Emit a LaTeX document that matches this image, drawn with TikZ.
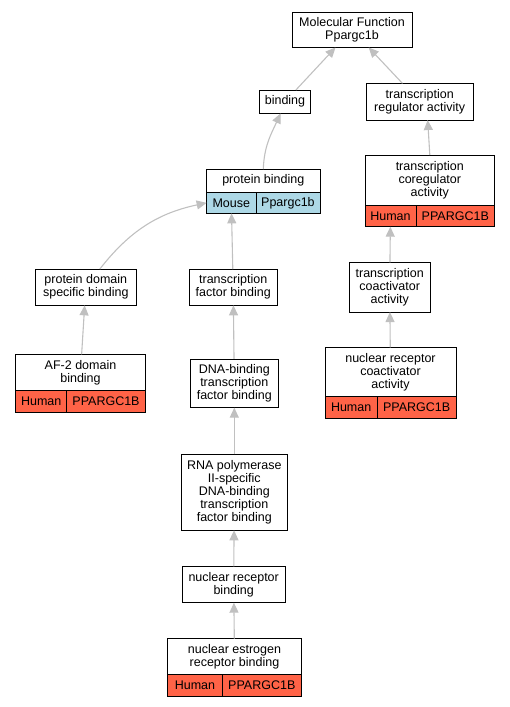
\documentclass[tikz,border=0pt]{standalone}
\usepackage{fontspec}
\setmainfont{Liberation Sans}
\usetikzlibrary{arrows.meta}
\definecolor{humanred}{RGB}{255, 99, 71}
\definecolor{mouseblue}{RGB}{173, 216, 230}
\definecolor{isagray}{RGB}{192, 192, 192}

\begin{document}
\begin{tikzpicture}[x=1pt, y=-1pt,
  every node/.style={font=\fontsize{12.5}{13}\selectfont, inner sep=0pt, outer sep=0pt, align=center},
  term/.style={draw, line width=0.9pt, fill=white},
  cell/.style={draw, line width=0.9pt, minimum height=21.7pt, anchor=north west},
  human/.style={fill=humanred},
  mouse/.style={fill=mouseblue},
  isa/.style={draw=isagray, line width=1.1pt, -{Triangle[length=10pt, width=9pt, fill=isagray]}}]

  \useasboundingbox (0,0) rectangle (509,707);

  %GO terms
  \draw[]
   (352,29.75) node[term, minimum width=120pt, minimum height=35.5pt](mf) {Molecular Function\\Ppargc1b}
   (285,101.7) node[term, minimum width=51.4pt, minimum height=23.3pt](bind) {binding}
   (419.7,101.7) node[term, minimum width=107.3pt, minimum height=36.7pt](treg) {transcription\\regulator activity}
   (263.3,180.7) node[term, minimum width=113.3pt, minimum height=23.3pt](pbT) {protein binding}
   (429.8,180) node[term, minimum width=129.7pt, minimum height=50pt](coregT) {transcription\\coregulator\\activity}
   (85.8,287.2) node[term, minimum width=100.3pt, minimum height=36.3pt](pds) {protein domain\\specific binding}
   (233.2,287.2) node[term, minimum width=88.3pt, minimum height=36.3pt](tfb) {transcription\\factor binding}
   (389.7,287.2) node[term, minimum width=81.3pt, minimum height=49.7pt](coact) {transcription\\coactivator\\activity}
   (80.5,372.5) node[term, minimum width=129.6pt, minimum height=36.4pt](af2T) {AF-2 domain\\binding}
   (234.3,383.3) node[term, minimum width=88.7pt, minimum height=48.7pt](dbtf) {DNA-binding\\transcription\\factor binding}
   (390.5,372) node[term, minimum width=131pt, minimum height=49.4pt](nrcaT) {nuclear receptor\\coactivator\\activity}
   (234.3,492.3) node[term, minimum width=106.7pt, minimum height=76pt](rnap) {RNA polymerase\\II-specific\\DNA-binding\\transcription\\factor binding}
   (233.7,584.5) node[term, minimum width=102.7pt, minimum height=36.4pt](nrb) {nuclear receptor\\binding}
   (234.5,656.5) node[term, minimum width=133.6pt, minimum height=35.6pt](nerbT) {nuclear estrogen\\receptor binding};

  %Species and gene cells
  \draw[]
   (pbT.south west) node[cell, mouse, minimum width=49.3pt, minimum height=21pt](pbM) {Mouse}
   (pbM.north east) node[cell, mouse, minimum width=64pt, minimum height=21pt](pbG) {Ppargc1b}
   (coregT.south west) node[cell, human, minimum width=51pt](coregH) {Human}
   (coregH.north east) node[cell, human, minimum width=78.7pt](coregG) {PPARGC1B}
   (af2T.south west) node[cell, human, minimum width=51pt](af2H) {Human}
   (af2H.north east) node[cell, human, minimum width=78.6pt](af2G) {PPARGC1B}
   (nrcaT.south west) node[cell, human, minimum width=52.3pt](nrcaH) {Human}
   (nrcaH.north east) node[cell, human, minimum width=78.7pt](nrcaG) {PPARGC1B}
   (nerbT.south west) node[cell, human, minimum width=54.6pt](nerbH) {Human}
   (nerbH.north east) node[cell, human, minimum width=79pt](nerbG) {PPARGC1B};

  %is_a links
  \draw[every edge/.append style={isa}]
   (bind) edge (mf)
   (treg) edge (mf)
   (pbT.north) edge[out=88, in=-115] ([xshift=-4.3pt]bind.south)
   (coregT.north) edge ([xshift=8pt]treg.south)
   ([xshift=14pt]pds.north) edge[out=52, in=192] (pbM.west)
   (tfb) edge (pbM)
   (coact) edge (coregH)
   (af2T) edge (pds)
   (dbtf) edge (tfb)
   (nrcaT) edge (coact)
   (rnap) edge (dbtf)
   (nrb) edge (rnap)
   (nerbT) edge (nrb);
\end{tikzpicture}
\end{document}
